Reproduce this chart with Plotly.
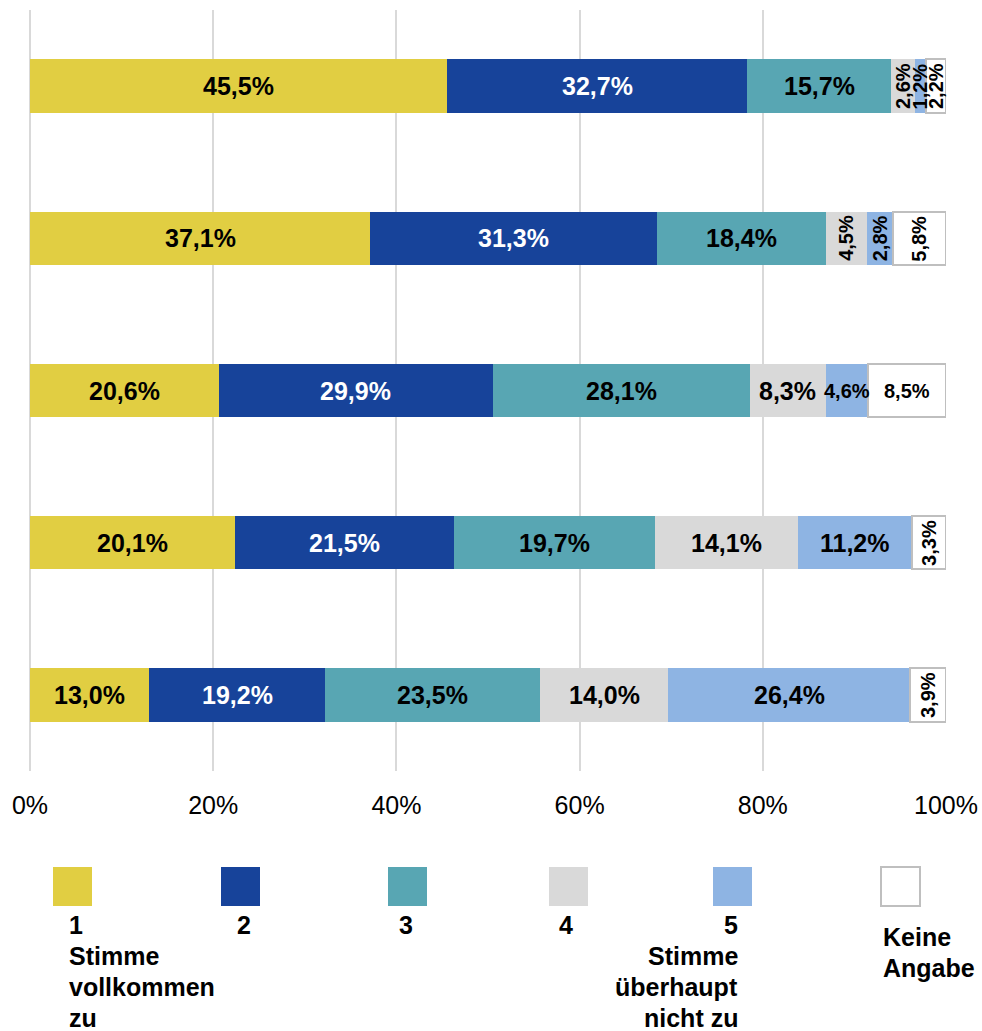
import plotly.graph_objects as go

# Survey statements (rows, top to bottom) and answer categories
items = ["Aussage 1", "Aussage 2", "Aussage 3", "Aussage 4", "Aussage 5"]
answer_labels = [
    "1<br>Stimme<br>vollkommen<br>zu",
    "2",
    "3",
    "4",
    "5<br>Stimme<br>überhaupt<br>nicht zu",
    "Keine<br>Angabe",
]

# Shares per answer category (percent), one value per statement
v1 = [45.5, 37.1, 20.6, 20.1, 13.0]
v2 = [32.7, 31.3, 29.9, 21.5, 19.2]
v3 = [15.7, 18.4, 28.1, 19.7, 23.5]
v4 = [2.6, 4.5, 8.3, 14.1, 14.0]
v5 = [1.2, 2.8, 4.6, 11.2, 26.4]
v_na = [2.2, 5.8, 8.5, 3.3, 3.9]
series = [v1, v2, v3, v4, v5, v_na]

x_ticks = [0, 20, 40, 60, 80, 100]

# Styling
colors = ["#E1CE42", "#17439A", "#58A6B3", "#D9D9D9", "#8EB4E3", "#FFFFFF"]
text_colors = ["#000000", "#FFFFFF", "#000000", "#000000", "#000000", "#000000"]
FONT = "Liberation Sans, Arial, sans-serif"
BIG, SMALL = 25, 20
# label cells (row, column) that are printed vertically / in the smaller size
vertical_cells = {(0, 3), (0, 4), (0, 5), (1, 3), (1, 4), (1, 5), (3, 5), (4, 5)}
small_cells = {(2, 4), (2, 5)}

W, H = 982, 1031
L, R, T, B = 30, 946, 10, 771  # plot area in pixels


def fx(px):
    return (px - L) / (R - L)


def fy(py):
    return (B - py) / (B - T)


def fmt(v):
    return f"{v:.1f}".replace(".", ",") + "%"


fig = go.Figure()
for j, vals in enumerate(series):
    fig.add_trace(go.Bar(
        y=items, x=vals, orientation="h", name=answer_labels[j].replace("<br>", " "),
        marker=dict(color=colors[j],
                    line=dict(color="#BFBFBF" if j == 5 else colors[j],
                              width=2 if j == 5 else 0)),
        showlegend=False, hoverinfo="skip",
    ))

# Value labels centred in each (normalised) segment
annotations = []
for i, item in enumerate(items):
    row = [s[i] for s in series]
    total = sum(row)
    cum = 0.0
    for j, v in enumerate(row):
        centre = (cum + v / 2) / total * 100
        cum += v
        vertical = (i, j) in vertical_cells
        size = SMALL if (vertical or (i, j) in small_cells) else BIG
        annotations.append(dict(
            x=centre, y=item, xref="x", yref="y", text=fmt(v), showarrow=False,
            textangle=-90 if vertical else 0,
            font=dict(family=FONT, size=size, color=text_colors[j], weight="bold"),
            xanchor="center", yanchor="middle",
        ))

# Legend: swatch with its label lines below
sw_left = [53, 221, 388, 549, 713, 881]
sw_top, sw_size = 867, 39
lab_x = [68, 243.5, 406, 566, 739, 882]
lab_anchor = ["left", "center", "center", "center", "right", "left"]
lab_first = [925, 925, 925, 925, 925, 937]  # centre of first text line
LINE_STEP = 31
shapes = []
for j in range(6):
    shapes.append(dict(
        type="rect", xref="paper", yref="paper",
        x0=fx(sw_left[j]), x1=fx(sw_left[j] + sw_size),
        y0=fy(sw_top + sw_size), y1=fy(sw_top),
        fillcolor=colors[j],
        line=dict(color="#BFBFBF" if j == 5 else colors[j], width=2 if j == 5 else 0),
    ))
    for k, line in enumerate(answer_labels[j].split("<br>")):
        annotations.append(dict(
            x=fx(lab_x[j]), y=fy(lab_first[j] + k * LINE_STEP), xref="paper", yref="paper",
            text=line, showarrow=False, xanchor=lab_anchor[j], yanchor="middle",
            font=dict(family=FONT, size=25, color="#000000", weight="bold"),
            borderpad=0,
        ))

fig.update_layout(
    width=W, height=H,
    margin=dict(l=L, r=W - R, t=T, b=H - B, pad=0, autoexpand=False),
    barmode="stack", barnorm="percent", bargap=0.65,
    plot_bgcolor="#FFFFFF", paper_bgcolor="#FFFFFF",
    font=dict(family=FONT, color="#000000"),
    annotations=annotations, shapes=shapes,
)
fig.update_xaxes(
    range=[0, 100], tickvals=x_ticks, ticktext=[f"{t}%" for t in x_ticks],
    showgrid=True, gridcolor="#D9D9D9", gridwidth=2,
    zeroline=True, zerolinecolor="#D9D9D9", zerolinewidth=2,
    showline=False, ticks="outside", ticklen=12, tickcolor="rgba(0,0,0,0)",
    tickfont=dict(family=FONT, size=25, color="#000000"), automargin=False,
)
fig.update_yaxes(autorange="reversed", showticklabels=False, showgrid=False,
                 zeroline=False, showline=False, automargin=False)

fig.write_html("out.html")
